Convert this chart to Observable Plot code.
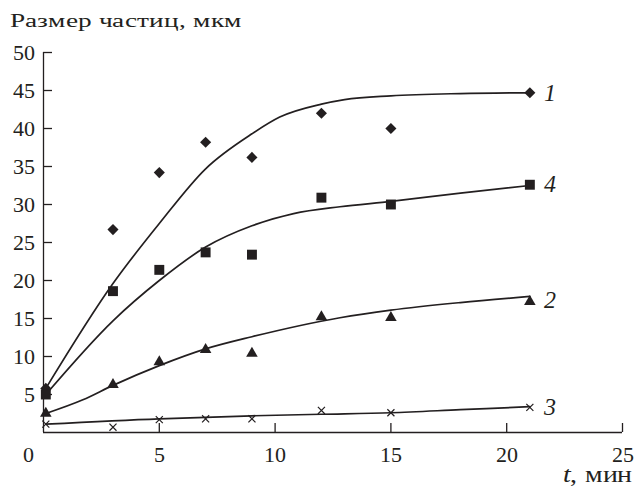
<!DOCTYPE html>
<html>
<head>
<meta charset="utf-8">
<script src="https://cdn.jsdelivr.net/npm/d3@7"></script>
<script src="https://cdn.jsdelivr.net/npm/@observablehq/plot@0.6"></script>
<style>
  @font-face { font-family: "RefSerif"; font-style: normal; font-weight: 400; src: local("Liberation Serif"), local("LiberationSerif"), local("Times New Roman"); }
  @font-face { font-family: "RefSerif"; font-style: italic; font-weight: 400; src: local("Liberation Serif Italic"), local("LiberationSerif-Italic"), local("Times New Roman Italic"); }
</style>
</head>
<body style="margin:0;background:#fff">
<div id="wrap" style="position:relative;width:635px;height:499px;color:#231f20;overflow:hidden">
  <div id="chart" style="position:absolute;left:0;top:0"></div>
  <div id="title" style="position:absolute;left:10px;top:10px;line-height:1;white-space:nowrap;font-family:RefSerif,'Liberation Serif','Times New Roman',serif;font-size:20px;color:#231f20;transform-origin:0 50%">Размер частиц, мкм</div>
  <div id="xlab" style="position:absolute;right:3px;top:463px;line-height:1;white-space:nowrap;font-family:RefSerif,'Liberation Serif','Times New Roman',serif;font-size:23px;color:#231f20;transform-origin:100% 50%"><i style="font-family:RefSerif,'Liberation Serif','Times New Roman',serif;font-style:italic">t</i>, мин</div>
</div>
<script>
// measured points (time, min)
const times = [0.1, 3, 5, 7, 9, 12, 15, 21];
const series1 = [5.8, 26.7, 34.2, 38.2, 36.2, 42.0, 40.0, 44.7]; // diamonds
const series4 = [5.0, 18.6, 21.4, 23.7, 23.4, 30.9, 30.0, 32.6]; // squares
const series2 = [2.5, 6.3, 9.3, 10.9, 10.4, 15.2, 15.1, 17.2]; // triangles
const series3 = [1.1, 0.7, 1.7, 1.8, 1.8, 2.9, 2.6, 3.3];      // crosses

// fitted curves
const fit1T = [0.1, 3, 5, 7, 9, 10.2, 12, 13, 15, 18, 21];
const fit1Y = [5.8, 19.6, 27.5, 34.7, 39.3, 41.5, 43.2, 43.8, 44.3, 44.6, 44.7];
const fit4T = [0.1, 3, 5, 7, 9, 10.8, 12.8, 15, 18, 21];
const fit4Y = [5.0, 14.7, 20.0, 24.4, 27.2, 28.8, 29.7, 30.4, 31.5, 32.5];
const fit2T = [0.1, 1.7, 3, 5, 7, 9, 12.8, 15, 18, 21];
const fit2Y = [2.5, 4.3, 6.2, 8.8, 11.0, 12.6, 15.1, 16.1, 17.1, 17.9];
const fit3T = [0.1, 5, 7, 9, 12, 15, 18, 21];
const fit3Y = [1.1, 1.8, 2.0, 2.2, 2.4, 2.6, 3.0, 3.4];

const curveLabels = ["1", "4", "2", "3"];
const curveLabelY = [44.6, 32.6, 17.4, 3.3];

const yTicks = [5, 10, 15, 20, 25, 30, 35, 40, 45, 50];
const xTicks = [5, 10, 15, 20, 25];

const pts = (ys) => times.map((t, i) => ({t, v: ys[i]}));
const fit = (ts, ys) => ts.map((t, i) => ({t, v: ys[i]}));
const labels = curveLabels.map((s, i) => ({s, t: 21, v: curveLabelY[i]}));

const ink = "#231f20";
const fam = "RefSerif, 'Liberation Serif', 'Times New Roman', serif";

const chart = Plot.plot({
  width: 635,
  height: 499,
  marginLeft: 43,
  marginRight: 13,
  marginTop: 52,
  marginBottom: 67,
  style: {fontFamily: fam, fontSize: "22px", color: ink, background: "white", overflow: "visible"},
  x: {domain: [0, 25], axis: null, label: null},
  y: {domain: [0, 50], axis: null, label: null},
  marks: [
    Plot.ruleX([0], {stroke: ink, strokeWidth: 1.3}),
    Plot.ruleY([0], {stroke: ink, strokeWidth: 1.3}),
    Plot.axisY(yTicks, {anchor: "left", label: null, tickSize: -9, text: null, stroke: ink, strokeWidth: 1.3}),
    Plot.axisY(yTicks, {anchor: "left", label: null, tickSize: 0, tickPadding: 9, fill: ink, fontSize: 22, fontFamily: fam}),
    Plot.axisX(xTicks, {anchor: "bottom", label: null, tickSize: -9, text: null, stroke: ink, strokeWidth: 1.3}),
    Plot.axisX(xTicks, {anchor: "bottom", label: null, tickSize: 0, tickPadding: 14, fill: ink, fontSize: 22, fontFamily: fam}),
    Plot.axisX([0], {anchor: "bottom", label: null, tickSize: 0, tickPadding: 14, dx: -15, fill: ink, fontSize: 22, fontFamily: fam}),
    Plot.line(fit(fit1T, fit1Y), {x: "t", y: "v", curve: "monotone-x", stroke: ink, strokeWidth: 1.7}),
    Plot.line(fit(fit4T, fit4Y), {x: "t", y: "v", curve: "monotone-x", stroke: ink, strokeWidth: 1.7}),
    Plot.line(fit(fit2T, fit2Y), {x: "t", y: "v", curve: "monotone-x", stroke: ink, strokeWidth: 1.7}),
    Plot.line(fit(fit3T, fit3Y), {x: "t", y: "v", curve: "monotone-x", stroke: ink, strokeWidth: 1.7}),
    Plot.dot(pts(series1), {x: "t", y: "v", symbol: "diamond2", r: 5, fill: ink, stroke: "none"}),
    Plot.dot(pts(series4), {x: "t", y: "v", symbol: "square", r: 5.6, fill: ink, stroke: "none"}),
    Plot.dot(pts(series2), {x: "t", y: "v", symbol: "triangle", r: 4.3, fill: ink, stroke: "none"}),
    Plot.dot(pts(series3), {x: "t", y: "v", symbol: "times", r: 3.3, stroke: ink, strokeWidth: 1.2}),
    Plot.text(labels, {x: "t", y: "v", text: "s", dx: 14, textAnchor: "start", fontStyle: "italic", fontSize: 24, fontFamily: fam, fill: ink})
  ]
});
document.getElementById("chart").appendChild(chart);

// inline fonts on every svg text
d3.select(chart).selectAll("text").each(function() {
  let size = null, style = null, n = this;
  while (n && n !== chart) {
    if (size == null && n.getAttribute && n.getAttribute("font-size")) size = n.getAttribute("font-size");
    if (style == null && n.getAttribute && n.getAttribute("font-style")) style = n.getAttribute("font-style");
    n = n.parentNode;
  }
  this.style.setProperty("font-family", fam, "important");
  this.style.setProperty("font-size", (size || 22) + "px", "important");
  this.style.setProperty("font-style", style || "normal", "important");
});
// stretch the two html labels to the reference widths
function fitWidth(id, target) {
  const el = document.getElementById(id);
  const w = el.getBoundingClientRect().width;
  if (w > 0) el.style.transform = `scaleX(${target / w})`;
}
fitWidth("title", 232);
fitWidth("xlab", 69);
</script>
</body>
</html>
